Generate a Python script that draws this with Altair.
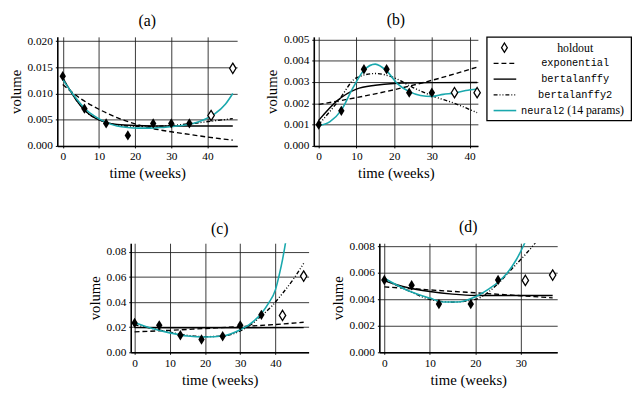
import altair as alt
import pandas as pd

# ---------------- data ----------------
# panel (a)
A_OBS_T = [0, 6, 12, 18, 25, 30, 35]
A_OBS_V = [0.0133, 0.0071, 0.0043, 0.0020, 0.0043, 0.0043, 0.0043]
A_HOLD_T = [41, 47]
A_HOLD_V = [0.0058, 0.0148]
A_EXP_T = [0, 5, 10, 15, 20, 25, 30, 35, 40, 47]
A_EXP_V = [0.0117, 0.0090, 0.0070, 0.0054, 0.0042, 0.0033, 0.0027, 0.0022, 0.0017, 0.0011]
A_BER_T = [0, 3, 6, 9, 12, 15, 20, 30, 47]
A_BER_V = [0.0130, 0.0095, 0.0068, 0.0053, 0.0045, 0.0041, 0.0039, 0.0038, 0.0038]
A_BER2_T = [0, 6, 12, 18, 24, 30, 36, 42, 47]
A_BER2_V = [0.0130, 0.0068, 0.0045, 0.0038, 0.0037, 0.0039, 0.0043, 0.0048, 0.0052]
A_NN_T = [0, 3, 6, 9, 12, 15, 18, 21, 24, 27, 30, 33, 36, 39, 42, 45, 47]
A_NN_V = [0.0127, 0.0097, 0.0072, 0.0056, 0.0045, 0.0038, 0.0035, 0.0034, 0.0034,
          0.0035, 0.0037, 0.0039, 0.0043, 0.0050, 0.0061, 0.0080, 0.0100]

# panel (b)
B_OBS_T = [0, 6, 12, 18, 24, 30]
B_OBS_V = [0.0010, 0.00165, 0.0036, 0.0036, 0.0025, 0.0025]
B_HOLD_T = [36, 42]
B_HOLD_V = [0.0025, 0.0025]
B_EXP_T = [0, 10, 20, 30, 42]
B_EXP_V = [0.00195, 0.00227, 0.00264, 0.00308, 0.0037]
B_BER_T = [0, 5, 10, 15, 20, 30, 42]
B_BER_V = [0.0012, 0.00214, 0.00267, 0.00285, 0.00293, 0.00297, 0.00298]
B_BER2_T = [0, 5, 10, 15, 20, 25, 30, 36, 42]
B_BER2_V = [0.0010, 0.00206, 0.0032, 0.0034, 0.0032, 0.00274, 0.00236, 0.0020, 0.00156]
B_NN_T = [0, 3, 6, 9, 12, 15, 18, 21, 24, 27, 30, 33, 36, 39, 42]
B_NN_V = [0.00095, 0.00114, 0.00168, 0.0027, 0.00355, 0.00384, 0.00352, 0.0029, 0.00255,
          0.00237, 0.00232, 0.00242, 0.00248, 0.0026, 0.00267]

# panel (c)
C_OBS_T = [0, 7, 13, 19, 25, 30, 36]
C_OBS_V = [0.0234, 0.0215, 0.0136, 0.0102, 0.0128, 0.0215, 0.0299]
C_HOLD_T = [42, 48]
C_HOLD_V = [0.0294, 0.0608]
C_EXP_T = [0, 10, 20, 30, 40, 48]
C_EXP_V = [0.0163, 0.0175, 0.0190, 0.0205, 0.0222, 0.0240]
C_BER_T = [0, 10, 20, 30, 48]
C_BER_V = [0.0197, 0.0196, 0.0196, 0.0196, 0.0197]
C_BER2_T = [0, 5, 10, 15, 20, 25, 30, 33, 36, 39, 42, 45, 48]
C_BER2_V = [0.0220, 0.0190, 0.0160, 0.0135, 0.0125, 0.0130, 0.0170, 0.0220, 0.0290,
            0.0370, 0.0470, 0.0580, 0.0710]
C_NN_T = [0, 5, 10, 15, 20, 25, 30, 33, 36, 38, 40, 41, 42, 43, 44]
C_NN_V = [0.0235, 0.0190, 0.0155, 0.0130, 0.0122, 0.0130, 0.0180, 0.0230, 0.0310,
          0.0390, 0.0500, 0.0610, 0.0740, 0.0900, 0.1100]

# panel (d)
D_OBS_T = [0, 6, 12, 19, 25]
D_OBS_V = [0.00547, 0.00507, 0.00365, 0.00365, 0.00547]
D_HOLD_T = [31, 37]
D_HOLD_V = [0.00544, 0.00584]
D_EXP_T = [0, 10, 20, 30, 37]
D_EXP_V = [0.00495, 0.00472, 0.00450, 0.00428, 0.00412]
D_BER_T = [0, 5, 10, 15, 20, 30, 37]
D_BER_V = [0.0054, 0.0049, 0.0046, 0.0044, 0.0043, 0.0043, 0.0043]
D_BER2_T = [0, 5, 10, 15, 20, 25, 28, 31, 33, 35]
D_BER2_V = [0.0055, 0.0047, 0.0040, 0.0038, 0.0040, 0.0052, 0.0063, 0.0074, 0.0082, 0.0092]
D_NN_T = [0, 5, 10, 13, 16, 20, 23, 25, 27, 29, 30.5, 32]
D_NN_V = [0.0056, 0.0047, 0.0041, 0.0038, 0.0038, 0.0042, 0.0048, 0.0053, 0.0060,
          0.0070, 0.0080, 0.0092]

LEGEND_LABELS = ["holdout", "exponential", "bertalanffy", "bertalanffy2", "neural2"]
LEGEND_EXTRA = "(14 params)"

TEAL = "#1aa8ad"
SERIF = "Liberation Serif, DejaVu Serif, serif"
MONO = "Liberation Mono, DejaVu Sans Mono, monospace"
DIAMOND = "M0,-1L0.62,0L0,1L-0.62,0Z"
TITLE_SIZE = 16
TITLE_OFFSET = 6


def df(t, v):
    return pd.DataFrame({"t": t, "v": v})


def panel(title, obs, hold, exp_, ber, ber2, nn, xdom, ydom, xticks, yticks, yfmt, w, h):
    xs = alt.Scale(domain=xdom, nice=False, zero=False)
    ys = alt.Scale(domain=ydom, nice=False, zero=False)
    xax = alt.Axis(values=xticks, tickCount=len(xticks), title="time (weeks)",
                   format="d", labelOverlap=False)
    yax = alt.Axis(values=yticks, tickCount=len(yticks), title="volume",
                   format=yfmt, labelOverlap=False)

    def line(d, dash, color="black", width=1.4):
        kw = dict(color=color, strokeWidth=width, clip=True, interpolate="monotone")
        if dash:
            kw["strokeDash"] = dash
        return alt.Chart(d).mark_line(**kw).encode(
            x=alt.X("t:Q", scale=xs, axis=xax),
            y=alt.Y("v:Q", scale=ys, axis=yax),
        )

    l_exp = line(df(*exp_), [5, 3])
    l_ber = line(df(*ber), None)
    l_ber2 = line(df(*ber2), [4, 2, 1, 2, 1, 2])
    l_nn = line(df(*nn), None, TEAL, 1.6)
    p_obs = alt.Chart(df(*obs)).mark_point(
        shape=DIAMOND, size=110, filled=True, color="black", opacity=1
    ).encode(x=alt.X("t:Q", scale=xs), y=alt.Y("v:Q", scale=ys))
    p_hold = alt.Chart(df(*hold)).mark_point(
        shape=DIAMOND, size=110, filled=True, fill="white", stroke="black",
        strokeWidth=1.3, opacity=1
    ).encode(x=alt.X("t:Q", scale=xs), y=alt.Y("v:Q", scale=ys))
    return alt.layer(l_exp, l_ber, l_ber2, l_nn, p_obs, p_hold).properties(
        width=w, height=h,
        title=alt.TitleParams(title, font=SERIF, fontSize=TITLE_SIZE, fontWeight="normal",
                              offset=TITLE_OFFSET, color="black"),
    )


chart_a = panel("(a)", (A_OBS_T, A_OBS_V), (A_HOLD_T, A_HOLD_V), (A_EXP_T, A_EXP_V),
                (A_BER_T, A_BER_V), (A_BER2_T, A_BER2_V), (A_NN_T, A_NN_V),
                [-1.5, 48.2], [0, 0.0208], [0, 10, 20, 30, 40],
                [0, 0.005, 0.010, 0.015, 0.020], ".3f", 183, 111)
chart_b = panel("(b)", (B_OBS_T, B_OBS_V), (B_HOLD_T, B_HOLD_V), (B_EXP_T, B_EXP_V),
                (B_BER_T, B_BER_V), (B_BER2_T, B_BER2_V), (B_NN_T, B_NN_V),
                [-1.3, 42.2], [0, 0.00512], [0, 10, 20, 30, 40],
                [0, 0.001, 0.002, 0.003, 0.004, 0.005], ".3f", 167, 111)
chart_c = panel("(c)", (C_OBS_T, C_OBS_V), (C_HOLD_T, C_HOLD_V), (C_EXP_T, C_EXP_V),
                (C_BER_T, C_BER_V), (C_BER2_T, C_BER2_V), (C_NN_T, C_NN_V),
                [-1.1, 49.4], [0, 0.087], [0, 10, 20, 30, 40],
                [0, 0.02, 0.04, 0.06, 0.08], ".2f", 181, 111)
chart_d = panel("(d)", (D_OBS_T, D_OBS_V), (D_HOLD_T, D_HOLD_V), (D_EXP_T, D_EXP_V),
                (D_BER_T, D_BER_V), (D_BER2_T, D_BER2_V), (D_NN_T, D_NN_V),
                [-1.1, 38.0], [0, 0.00825], [0, 10, 20, 30],
                [0, 0.002, 0.004, 0.006, 0.008], ".3f", 181, 111)

# ---------------- legend panel ----------------
leg = pd.DataFrame({"label": LEGEND_LABELS})
ly = alt.Y("label:N", axis=None,
           scale=alt.Scale(type="point", domain=LEGEND_LABELS, range=[11, 75], padding=0))
base = alt.Chart(leg)


def leg_line(lbl, dash, color="black", width=1.4):
    kw = dict(color=color, strokeWidth=width)
    if dash:
        kw["strokeDash"] = dash
    return base.transform_filter(alt.datum.label == lbl).mark_rule(**kw).encode(
        x=alt.value(7), x2=alt.value(30), y=ly)


leg_sym = base.transform_filter(alt.datum.label == "holdout").mark_point(
    shape=DIAMOND, size=90, filled=True, fill="white", stroke="black", strokeWidth=1.3,
    opacity=1).encode(x=alt.value(18), y=ly)
leg_hold_txt = base.transform_filter(alt.datum.label == "holdout").mark_text(
    font=SERIF, fontSize=12, align="center", color="black").encode(
    x=alt.value(90), y=ly, text="label:N")
leg_mono_txt = base.transform_filter(
    (alt.datum.label != "holdout") & (alt.datum.label != "neural2")).mark_text(
    font=MONO, fontSize=10.5, align="center", color="black").encode(
    x=alt.value(90), y=ly, text="label:N")
leg_nn_txt = base.transform_filter(alt.datum.label == "neural2").mark_text(
    font=MONO, fontSize=10.5, align="right", color="black").encode(
    x=alt.value(79), y=ly, text="label:N")
leg_nn_extra = base.transform_filter(alt.datum.label == "neural2").mark_text(
    font=SERIF, fontSize=12, align="left", color="black", text=LEGEND_EXTRA).encode(
    x=alt.value(82), y=ly)

legend = alt.layer(
    leg_line("exponential", [5, 3]),
    leg_line("bertalanffy", None),
    leg_line("bertalanffy2", [4, 2, 1, 2, 1, 2]),
    leg_line("neural2", None, TEAL, 1.6),
    leg_sym, leg_hold_txt, leg_mono_txt, leg_nn_txt, leg_nn_extra,
).properties(
    width=147, height=85,
    view=alt.ViewBackground(stroke="black", strokeWidth=1.3),
    title=alt.TitleParams("(x)", font=SERIF, fontSize=TITLE_SIZE, fontWeight="normal",
                          offset=TITLE_OFFSET, color="transparent"),
)

top = alt.hconcat(chart_a, alt.hconcat(chart_b, legend, spacing=2), spacing=26)
bottom = alt.hconcat(chart_c, chart_d, spacing=21)

chart = alt.vconcat(top, bottom, spacing=38, center=True).properties(
    padding={"left": 0, "top": 0, "right": 0, "bottom": 0}
).configure_view(stroke=None).configure_axis(
    labelFont=SERIF, labelFontSize=11.5, labelColor="black",
    titleFont=SERIF, titleFontSize=15, titleFontWeight="normal", titleColor="black",
    gridColor="#222222", gridWidth=0.9, gridOpacity=1,
    domainColor="black", domainWidth=1.6,
    tickColor="black", tickSize=2, labelPadding=3, titlePadding=4,
).configure_concat(spacing=14)

chart.save("out.html", embed_options={"renderer": "svg", "actions": False})
